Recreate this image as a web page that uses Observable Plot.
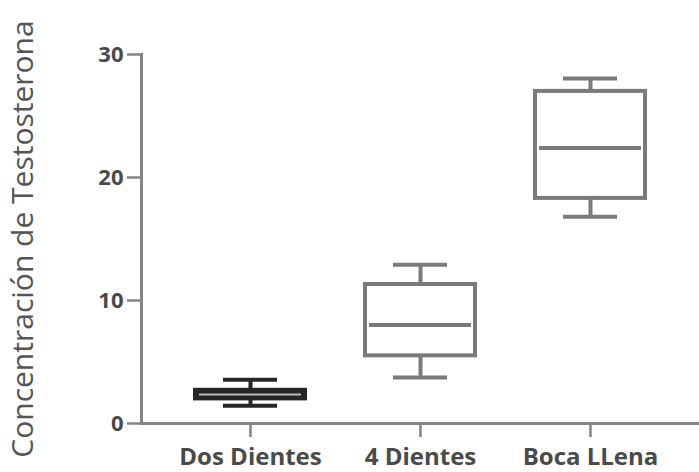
<!DOCTYPE html>
<html>
<head>
<meta charset="utf-8">
<script src="https://cdn.jsdelivr.net/npm/d3@7"></script>
<script src="https://cdn.jsdelivr.net/npm/@observablehq/plot@0.6"></script>
<style>
  html, body { margin: 0; padding: 0; background: #fff; overflow: hidden; }
  #chart svg { display: block; }
</style>
</head>
<body>
<div id="chart"></div>
<script>
const categories = ["Dos Dientes", "4 Dientes", "Boca LLena"];
const whiskerLow = [1.45, 3.75, 16.8];
const q1 = [2.0, 5.5, 18.3];
const median = [2.35, 8.0, 22.4];
const q3 = [2.7, 11.3, 27.0];
const whiskerHigh = [3.55, 12.9, 28.05];
const yTicks = [0, 10, 20, 30];
const yLabel = "Concentración de Testosterona";
const boxStroke = ["#262626", "#7b7b7b", "#7b7b7b"];
const boxFill = ["#262626", "white", "white"];
const medianStroke = ["#b8b8b8", "#7b7b7b", "#7b7b7b"];
const medianWidth = [2, 4, 4];

const data = categories.map((c, i) => ({
  cat: c, lo: whiskerLow[i], q1: q1[i], med: median[i], q3: q3[i], hi: whiskerHigh[i],
  stroke: boxStroke[i], fill: boxFill[i], medStroke: medianStroke[i], medWidth: medianWidth[i]
}));

const axisColor = "#858585";
const textColor = "#4a4a4a";

const chart = Plot.plot({
  width: 699,
  height: 472,
  marginLeft: 141,
  marginRight: 0,
  marginTop: 54,
  marginBottom: 49,
  style: { fontFamily: "'Open Sans', sans-serif", background: "white" },
  x: { type: "band", domain: categories, paddingInner: 0.355, paddingOuter: 0.314, label: null },
  y: { domain: [0, 30], label: null },
  marks: [
    Plot.ruleX(data, { x: "cat", y1: "lo", y2: "q1", stroke: "stroke", strokeWidth: 4 }),
    Plot.ruleX(data, { x: "cat", y1: "q3", y2: "hi", stroke: "stroke", strokeWidth: 4 }),
    Plot.tickY(data, { x: "cat", y: "lo", stroke: "stroke", strokeWidth: 4, insetLeft: 28, insetRight: 28 }),
    Plot.tickY(data, { x: "cat", y: "hi", stroke: "stroke", strokeWidth: 4, insetLeft: 28, insetRight: 28 }),
    Plot.barY(data, { x: "cat", y1: "q1", y2: "q3", fill: "fill", stroke: "stroke", strokeWidth: 4 }),
    Plot.tickY(data, { x: "cat", y: "med", stroke: "medStroke", strokeWidth: "medWidth", insetLeft: 4, insetRight: 4 }),
    Plot.frame({ anchor: "left", stroke: axisColor, strokeWidth: 3 }),
    Plot.ruleY([0], { stroke: axisColor, strokeWidth: 3 }),
    Plot.axisY({
      ticks: yTicks, tickSize: 14, tickPadding: 4, stroke: axisColor, strokeWidth: 2.5,
      fill: textColor, fontSize: 22, fontWeight: "bold", letterSpacing: 2, label: null
    }),
    Plot.axisX({
      tickSize: 14, tickPadding: 10, stroke: axisColor, strokeWidth: 2.5,
      fill: textColor, fontSize: 24, fontWeight: "bold", letterSpacing: 1.6, label: null
    }),
    Plot.text([yLabel], {
      text: d => d, frameAnchor: "left", textAnchor: "middle", rotate: -90, dx: -118,
      fill: "#555", fontSize: 30, letterSpacing: 3.3, fontFamily: "'Open Sans', sans-serif"
    })
  ]
});
document.getElementById("chart").appendChild(chart);
</script>
</body>
</html>
